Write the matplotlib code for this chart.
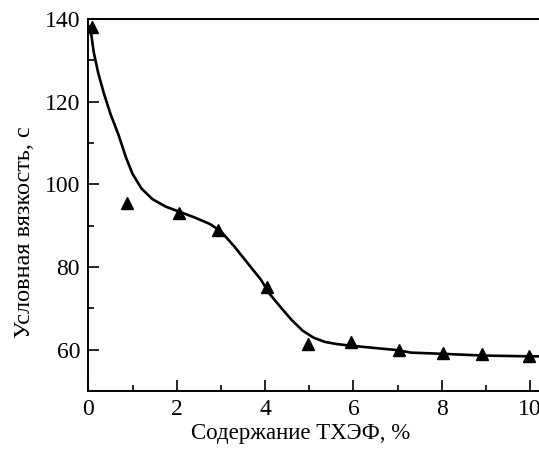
import numpy as np
import matplotlib
matplotlib.use('Agg')
import matplotlib.pyplot as plt
from matplotlib.ticker import MultipleLocator

plt.rcParams['font.family'] = ['Liberation Serif', 'DejaVu Serif']

# измеренные точки
conc = [0.08, 0.88, 2.05, 2.93, 4.04, 4.98, 5.95, 7.02, 8.03, 8.9, 9.98]
visc = [138.0, 95.5, 93.1, 88.9, 75.2, 61.5, 61.8, 60.0, 59.3, 58.9, 58.5]

# сглаженная кривая
curve_x = [0.04, 0.12, 0.22, 0.35, 0.5, 0.68, 0.85, 1.0, 1.2, 1.45, 1.75,
           2.05, 2.4, 2.75, 3.0, 3.3, 3.6, 3.9, 4.11, 4.35, 4.6, 4.85,
           5.1, 5.35, 5.6, 5.92, 6.5, 7.0, 7.3, 8.03, 8.9, 9.98, 10.2]
curve_y = [138.2, 132.0, 127.0, 122.0, 117.0, 112.0, 106.5, 102.5, 99.0, 96.4, 94.6,
           93.4, 92.0, 90.4, 88.6, 85.0, 81.0, 77.0, 73.4, 70.3, 67.2, 64.6,
           62.9, 61.9, 61.4, 61.0, 60.4, 59.9, 59.3, 59.0, 58.6, 58.4, 58.4]

fig = plt.figure(figsize=(5.39, 4.49), dpi=100)
ax = fig.add_axes([0.164, 0.129, 0.836, 0.829])

ax.plot(curve_x, curve_y, color='black', linewidth=1.9)
ax.plot(conc, visc, linestyle='none', marker='^', color='black', markersize=8)

ax.set_xlim(0, 10.2)
ax.set_ylim(50, 140)
ax.xaxis.set_major_locator(MultipleLocator(2))
ax.xaxis.set_minor_locator(MultipleLocator(1))
ax.yaxis.set_minor_locator(MultipleLocator(10))
ax.set_yticks([60, 80, 100, 120, 140])

ax.tick_params(which='major', direction='in', length=8, width=1.2, labelsize=17, pad=6)
ax.tick_params(which='minor', direction='in', length=4, width=1.2)
ax.tick_params(top=False, right=False)
for side in ['left', 'bottom', 'top']:
    ax.spines[side].set_linewidth(1.4)
ax.spines['right'].set_visible(False)

ax.set_xlabel('Содержание ТХЭФ, %', fontsize=16.5)
ax.set_ylabel('Условная вязкость, с', fontsize=17.5)
ax.xaxis.set_label_coords(0.472, -0.085)
ax.yaxis.set_label_coords(-0.118, 0.427)

fig.savefig('out.png', dpi=100)
